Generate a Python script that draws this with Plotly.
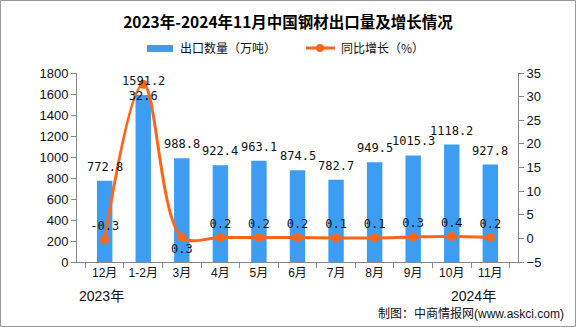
import plotly.graph_objects as go

categories = ["12月", "1-2月", "3月", "4月", "5月", "6月", "7月", "8月", "9月", "10月", "11月"]
export_qty = [772.8, 1591.2, 988.8, 922.4, 963.1, 874.5, 782.7, 949.5, 1015.3, 1118.2, 927.8]
yoy_growth = [-0.3, 32.6, 0.3, 0.2, 0.2, 0.2, 0.1, 0.1, 0.3, 0.4, 0.2]
yoy_text = ["-0.3", "32.6", "0.3", "0.2", "0.2", "0.2", "0.1", "0.1", "0.3", "0.4", "0.2"]
yoy_pos = ["top center", "bottom center", "bottom center"] + ["top center"] * 8
bar_name = "出口数量（万吨）"
line_name = "同比增长（%）"

L, R, T, B = 77, 518, 73, 262
W, H = 576, 327
pw, ph = R - L, B - T
BAR_C, LINE_C = "#3d9df3", "#ff6619"

def px(x):
    return (x - L) / pw

def py(y):
    return (B - y) / ph

label_font = dict(family="DejaVu Sans Mono, Noto Sans CJK SC", size=12, color="#111")
tick_font = dict(family="Liberation Sans, Noto Sans CJK SC", size=13, color="#111")
xtick_font = dict(family="Liberation Sans, Noto Sans CJK SC", size=12, color="#111")

fig = go.Figure()
fig.add_trace(go.Bar(
    x=categories, y=export_qty, name=bar_name,
    marker=dict(color=BAR_C, line=dict(width=0)), width=0.4, yaxis="y",
))
fig.add_trace(go.Scatter(
    x=categories, y=yoy_growth, name=line_name, yaxis="y2",
    mode="lines+markers+text", line=dict(color=LINE_C, width=3, shape="spline", smoothing=1.0),
    marker=dict(color=LINE_C, size=9),
    text=yoy_text, textposition=yoy_pos, textfont=label_font, cliponaxis=False,
))

# bar value labels
for c, v in zip(categories, export_qty):
    fig.add_annotation(x=c, y=v, xref="x", yref="y", text=f"{v:.1f}", showarrow=False,
                       yanchor="middle", yshift=14, font=label_font)

fig.update_layout(
    width=W, height=H,
    margin=dict(l=L, r=W - R, t=T, b=H - B),
    paper_bgcolor="white", plot_bgcolor="white",
    title=dict(text="<b>2023年-2024年11月中国钢材出口量及增长情况</b>", x=288 / W, xanchor="center",
               y=1 - 23 / H, yanchor="middle",
               font=dict(family="Noto Sans CJK SC", size=15.5, color="#000")),
    showlegend=False,
    bargap=0.6,
    xaxis=dict(showline=True, linecolor="#888", linewidth=1, ticks="outside", tickcolor="#888",
               ticklen=5, tickson="boundaries", tickfont=xtick_font, tickangle=0, showgrid=False),
    yaxis=dict(range=[0, 1800], dtick=200, showline=True, linecolor="#888", ticks="outside",
               tickcolor="#888", ticklen=5, tickfont=tick_font, showgrid=False, zeroline=False),
    yaxis2=dict(range=[-5, 35], dtick=5, overlaying="y", side="right", showline=True,
                linecolor="#888", ticks="outside", tickcolor="#888", ticklen=5,
                tickfont=tick_font, showgrid=False, zeroline=False),
)

# manual legend
fig.add_shape(type="rect", xref="paper", yref="paper", x0=px(147), x1=px(173), y0=py(52), y1=py(45),
              fillcolor=BAR_C, line=dict(width=0))
fig.add_annotation(text=bar_name, x=px(178), xanchor="left", y=py(48), yanchor="middle",
                   xref="paper", yref="paper", showarrow=False,
                   font=dict(family="Noto Sans CJK SC", size=12, color="#111"))
fig.add_shape(type="line", xref="paper", yref="paper", x0=px(306), x1=px(335), y0=py(48), y1=py(48),
              line=dict(color=LINE_C, width=3))
fig.add_shape(type="circle", xref="paper", yref="paper", x0=px(316), x1=px(324), y0=py(52), y1=py(44),
              fillcolor=LINE_C, line=dict(width=0))
fig.add_annotation(text=line_name, x=px(339), xanchor="left", y=py(48), yanchor="middle",
                   xref="paper", yref="paper", showarrow=False,
                   font=dict(family="Noto Sans CJK SC", size=12, color="#111"))

fig.add_annotation(text="2023年", x=px(101), xanchor="center", y=py(296), yanchor="middle",
                   xref="paper", yref="paper", showarrow=False,
                   font=dict(family="Liberation Sans, Noto Sans CJK SC", size=14, color="#111"))
fig.add_annotation(text="2024年", x=px(473), xanchor="center", y=py(296), yanchor="middle",
                   xref="paper", yref="paper", showarrow=False,
                   font=dict(family="Liberation Sans, Noto Sans CJK SC", size=14, color="#111"))
fig.add_annotation(text="制图：中商情报网<span style='font-family:Liberation Sans;font-size:12px'>(www.askci.com)</span>",
                   x=px(566), xanchor="right", y=py(312), yanchor="middle", xref="paper", yref="paper",
                   showarrow=False, font=dict(family="Noto Sans CJK SC", size=12, color="#111"))

fig.add_shape(type="rect", xref="paper", yref="paper",
              x0=px(0.5), x1=px(W - 0.5), y0=py(H - 0.5), y1=py(0.5),
              line=dict(color="#999", width=1))

fig.write_html("out.html")
